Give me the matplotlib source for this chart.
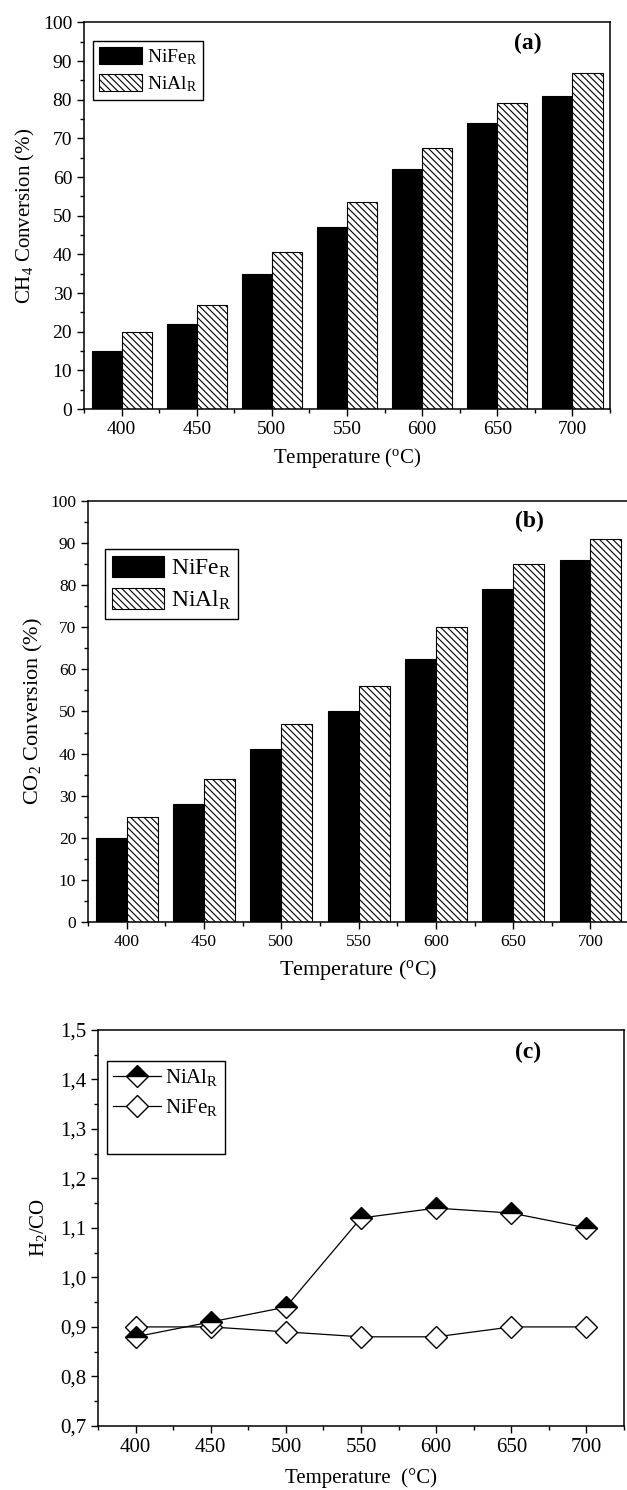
import numpy as np
import matplotlib
matplotlib.use('Agg')
import matplotlib.pyplot as plt
from matplotlib.ticker import MultipleLocator, FuncFormatter
from matplotlib.lines import Line2D

plt.rcParams['font.family'] = 'Liberation Serif'
plt.rcParams['mathtext.fontset'] = 'custom'
plt.rcParams['mathtext.rm'] = 'Liberation Serif'
plt.rcParams['mathtext.it'] = 'Liberation Serif:italic'
plt.rcParams['hatch.linewidth'] = 0.8

# data
temps = [400, 450, 500, 550, 600, 650, 700]
ch4_nife = [15, 22, 35, 47, 62, 74, 81]
ch4_nial = [20, 27, 40.5, 53.5, 67.5, 79.2, 87]
co2_nife = [20, 28, 41, 50, 62.5, 79, 86]
co2_nial = [25, 34, 47, 56, 70, 85, 91]
h2co_nial = [0.88, 0.91, 0.94, 1.12, 1.14, 1.13, 1.10]
h2co_nife = [0.90, 0.90, 0.89, 0.88, 0.88, 0.90, 0.90]

fig = plt.figure(figsize=(6.27, 14.9), dpi=100)

hatch = '\\' * 5


def style_axis(ax, tick_size):
    ax.tick_params(which='both', direction='out', top=False, right=False,
                   labelsize=tick_size, width=1)
    ax.tick_params(which='major', length=5)
    ax.tick_params(which='minor', length=3)
    for s in ax.spines.values():
        s.set_linewidth(1.1)
    ax.set_xlim(375, 725)
    ax.xaxis.set_major_locator(MultipleLocator(50))
    ax.xaxis.set_minor_locator(MultipleLocator(25))


def bar_panel(ax, nife, nial, ylabel, tag, leg_size, leg_anchor, tick_size,
              label_size, sub):
    x = np.array(temps)
    ax.bar(x - 10, nife, width=20, color='black', edgecolor='black',
           linewidth=0.8, label='NiFe' + sub)
    ax.bar(x + 10, nial, width=20, color='white', edgecolor='black',
           linewidth=0.8, hatch=hatch, label='NiAl' + sub)
    style_axis(ax, tick_size)
    ax.set_ylim(0, 100)
    ax.yaxis.set_major_locator(MultipleLocator(10))
    ax.yaxis.set_minor_locator(MultipleLocator(5))
    ax.set_ylabel(ylabel, fontsize=label_size, labelpad=4)
    ax.set_xlabel(r'Temperature ($^\mathregular{o}$C)', fontsize=label_size,
                  labelpad=6)
    ax.text(tag[0], tag[1], tag[2], transform=ax.transAxes, ha='center',
            va='center', fontsize=17, fontweight='bold')
    leg = ax.legend(loc='upper left', bbox_to_anchor=leg_anchor,
                    borderaxespad=0, fontsize=leg_size, fancybox=False,
                    edgecolor='black', framealpha=1, handlelength=2.2,
                    handleheight=1.0, handletextpad=0.3, labelspacing=0.35,
                    borderpad=0.3)
    leg.get_frame().set_linewidth(1.0)


# (a) CH4 conversion
ax1 = fig.add_axes([0.134, 0.7255, 0.839, 0.2594])
bar_panel(ax1, ch4_nife, ch4_nial, r'CH$\mathregular{_4}$ Conversion (%)',
          (0.844, 0.947, '(a)'), 14, (0.017, 0.952), 14, 15,
          r'$\mathregular{_R}$')

# (b) CO2 conversion
ax2 = fig.add_axes([0.1404, 0.3812, 0.863, 0.2826])
bar_panel(ax2, co2_nife, co2_nial, r'CO$\mathregular{_2}$ Conversion (%)',
          (0.815, 0.952, '(b)'), 17, (0.031, 0.886), 12.5, 16,
          r'$\mathregular{_R}$')

# (c) H2/CO ratio
ax3 = fig.add_axes([0.1563, 0.0430, 0.8389, 0.2658])
ax3.plot(temps, h2co_nial, color='black', lw=0.9, marker='D', ms=11,
         fillstyle='top', markerfacecolor='black',
         markerfacecoloralt='white', markeredgecolor='black', mew=1,
         label=r'NiAl$\mathregular{_R}$', zorder=3)
ax3.plot(temps, h2co_nife, color='black', lw=0.9, marker='D', ms=11,
         markerfacecolor='white', markeredgecolor='black', mew=1,
         label=r'NiFe$\mathregular{_R}$', zorder=2)
style_axis(ax3, 15)
ax3.set_ylim(0.7, 1.5)
ax3.yaxis.set_major_locator(MultipleLocator(0.1))
ax3.yaxis.set_minor_locator(MultipleLocator(0.05))
ax3.yaxis.set_major_formatter(FuncFormatter(lambda v, p: f'{v:.1f}'.replace('.', ',')))
ax3.set_ylabel(r'H$\mathregular{_2}$/CO', fontsize=15, labelpad=8)
ax3.set_xlabel('Temperature  (°C)', fontsize=15, labelpad=8)
ax3.text(0.817, 0.942, '(c)', transform=ax3.transAxes, ha='center',
         va='center', fontsize=17, fontweight='bold')
handles, labels = ax3.get_legend_handles_labels()
handles.append(Line2D([], [], linestyle='none'))
labels.append(' ')
leg = ax3.legend(handles, labels, loc='upper left',
                 bbox_to_anchor=(0.017, 0.922), borderaxespad=0, fontsize=15,
                 fancybox=False, edgecolor='black', framealpha=1,
                 handlelength=2.3, handletextpad=0.2, labelspacing=0.45,
                 borderpad=0.3)
leg.get_frame().set_linewidth(1.0)

fig.savefig('out.png', dpi=100)
